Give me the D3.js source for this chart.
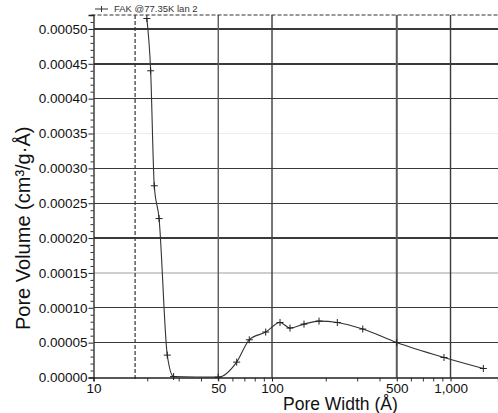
<!DOCTYPE html>
<html><head><meta charset="utf-8">
<script src="https://cdn.jsdelivr.net/npm/d3@7"></script>
<style>
body{margin:0;background:#fff;}
svg{display:block;font-family:"Liberation Sans",Arial,sans-serif;}
</style></head>
<body><svg id="c" width="498" height="413"></svg>
<script>
// ---- data ----
const poreWidth = [19.9, 20.9, 21.9, 23.3, 25.9, 28.1, 50, 63.4, 74.6, 92.2, 110.9, 126.1, 151.1, 183.4, 232.2, 322.3, 499.5, 919, 1527];
const poreVolume = [0.000515, 0.000440, 0.000275, 0.000228, 0.0000321, 0.0000014, 0.0000005, 0.0000221, 0.0000541, 0.0000652, 0.0000789, 0.0000709, 0.0000766, 0.0000809, 0.0000789, 0.0000695, 0.0000502, 0.0000287, 0.0000129];
const seriesName = "FAK @77.35K lan 2";
const xTickValues = [10, 50, 100, 500, 1000];
const xTickLabels = ["10", "50", "100", "500", "1,000"];
const xMinorTicks = [20,30,40,60,70,80,90,200,300,400,600,700,800,900];
const yTickValues = [0,0.00005,0.0001,0.00015,0.0002,0.00025,0.0003,0.00035,0.0004,0.00045,0.0005];
const xDomain = [10, 1845];
const yDomain = [0, 0.00052];
const markerLine = 17.1;

const svg = d3.select("#c");
const L = 93.5, R = 498, T = 15, B = 377.5;
const x = d3.scaleLog().domain(xDomain).range([L, R]);
const y = d3.scaleLinear().domain(yDomain).range([B, T]);

// horizontal grid
const lightGrid = {0.00015: "#cfcfcf", 0.00035: "#ececec"};
yTickValues.filter(v => v > 0).forEach(v => {
  const key = +v.toFixed(5);
  svg.append("line").attr("x1", L).attr("x2", R).attr("y1", y(v)).attr("y2", y(v))
    .attr("stroke", lightGrid[key] || "#3a3a3a")
    .attr("stroke-width", key === 0.00045 ? 2 : 1.3)
    .attr("shape-rendering", "crispEdges");
});
// vertical grid
xTickValues.filter(v => v > 10).forEach(v => {
  svg.append("line").attr("x1", x(v)).attr("x2", x(v)).attr("y1", T).attr("y2", B)
    .attr("stroke", v === 50 || v === 500 ? "#5a5a5a" : "#3a3a3a")
    .attr("stroke-width", v === 500 ? 2 : 1.4);
});
// top dashed border
svg.append("line").attr("x1", L - 2).attr("x2", R).attr("y1", T).attr("y2", T)
  .attr("stroke", "#333").attr("stroke-width", 1.2).attr("stroke-dasharray", "4,2");
// vertical dashed marker line
svg.append("line").attr("x1", x(markerLine)).attr("x2", x(markerLine)).attr("y1", T).attr("y2", B + 2)
  .attr("stroke", "#333").attr("stroke-width", 1.2).attr("stroke-dasharray", "4,2");

// y axis
const yAxis = d3.axisLeft(y).tickValues(yTickValues).tickSize(5).tickPadding(1)
  .tickFormat(d3.format(".5f"));
const gy = svg.append("g").attr("transform", `translate(${L},0)`).call(yAxis);
gy.select(".domain").attr("stroke", "#222").attr("stroke-width", 1.3);
gy.selectAll(".tick line").attr("stroke", "#222");
gy.selectAll("text").attr("font-size", "13.5px").attr("fill", "#111").attr("font-family", "'Liberation Sans',Arial,sans-serif");
const yMinor = d3.range(0, 0.00052, 0.00001).filter(v => Math.round(v * 1e5) % 5 !== 0);
svg.append("g").attr("transform", `translate(${L},0)`)
  .call(d3.axisLeft(y).tickValues(yMinor).tickSize(3).tickFormat(""))
  .call(g => g.select(".domain").remove())
  .selectAll("line").attr("stroke", "#333");

// x axis
const xAxis = d3.axisBottom(x).tickValues(xTickValues).tickSize(4).tickPadding(2)
  .tickFormat((d, i) => xTickLabels[i]);
const gx = svg.append("g").attr("transform", `translate(0,${B})`).call(xAxis);
gx.select(".domain").attr("stroke", "#222").attr("stroke-width", 1.3);
gx.selectAll(".tick line").attr("stroke", "#222");
gx.selectAll("text").attr("font-size", "13.5px").attr("fill", "#111").attr("font-family", "'Liberation Sans',Arial,sans-serif");
svg.append("g").attr("transform", `translate(0,${B})`)
  .call(d3.axisBottom(x).tickValues(xMinorTicks).tickSize(4).tickFormat(""))
  .call(g => g.select(".domain").remove())
  .selectAll("line").attr("stroke", "#333");

// series
const pts = poreWidth.map((w, i) => [w, poreVolume[i]]);
const line = d3.line().x(d => x(d[0])).y(d => y(d[1])).curve(d3.curveMonotoneX);
svg.append("path").datum(pts).attr("d", line).attr("fill", "none")
  .attr("stroke", "#333").attr("stroke-width", 1.1);
const mk = svg.append("g");
pts.forEach(d => {
  const px = x(d[0]), py = y(d[1]);
  mk.append("line").attr("x1", px - 3.5).attr("x2", px + 3.5).attr("y1", py).attr("y2", py).attr("stroke", "#222").attr("stroke-width", 1);
  mk.append("line").attr("x1", px).attr("x2", px).attr("y1", py - 3.5).attr("y2", py + 3.5).attr("stroke", "#222").attr("stroke-width", 1);
});

// legend
svg.append("line").attr("x1", 95).attr("x2", 108).attr("y1", 9).attr("y2", 9).attr("stroke", "#333");
svg.append("line").attr("x1", 101.5).attr("x2", 101.5).attr("y1", 6).attr("y2", 12).attr("stroke", "#333");
svg.append("text").attr("x", 114).attr("y", 12).attr("font-size", "9.5px").attr("fill", "#333").text(seriesName);

// axis titles
svg.append("text").attr("x", 283).attr("y", 410).attr("font-size", "17.5px").attr("fill", "#111").text("Pore Width (Å)");
svg.append("text").attr("transform", "translate(30,330) rotate(-90)").attr("font-size", "20px").attr("fill", "#111")
  .text("Pore Volume (cm³/g·Å)");
</script></body></html>
